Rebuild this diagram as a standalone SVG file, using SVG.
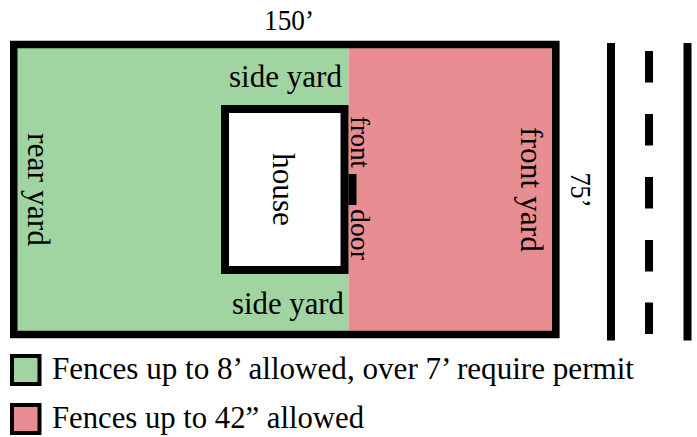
<svg xmlns="http://www.w3.org/2000/svg" width="697" height="437" viewBox="0 0 697 437">
<style>
text{font-family:"Liberation Serif","Times New Roman",serif;fill:#000}
.l{font-size:31px}.m{font-size:29px}.s{font-size:27px}
.k{fill:#000}
.g{fill:#a0d5a2}.p{fill:#e88e93}
</style>
<rect width="697" height="437" fill="#fff"/>
<g id="lot">
<rect class="g" x="10" y="41" width="338.500" height="297"/>
<rect class="p" x="348.500" y="41" width="211" height="297"/>
<rect x="13.750" y="44.500" width="542" height="290" fill="none" stroke="#000" stroke-width="7.500"/>
</g>
<g id="house">
<rect x="225" y="109" width="119.500" height="161" fill="#fff" stroke="#000" stroke-width="8"/>
<text class="l" transform="translate(273,153) rotate(90)" textLength="73" lengthAdjust="spacingAndGlyphs">house</text>
</g>
<g id="door">
<rect class="k" x="348.500" y="174" width="8" height="31"/>
<text class="s" transform="translate(351,116) rotate(90)" textLength="52" lengthAdjust="spacingAndGlyphs">front</text>
<text class="s" transform="translate(351,209) rotate(90)" textLength="51" lengthAdjust="spacingAndGlyphs">door</text>
</g>
<g id="road">
<rect class="k" x="607" y="43" width="8" height="297.500"/>
<rect class="k" x="683.500" y="43" width="8" height="297.500"/>
<rect class="k" x="645" y="51" width="8" height="31.500"/>
<rect class="k" x="645" y="114" width="8" height="31.500"/>
<rect class="k" x="645" y="177" width="8" height="31.500"/>
<rect class="k" x="645" y="240" width="8" height="31.500"/>
<rect class="k" x="645" y="302.500" width="8" height="31.500"/>
</g>
<g id="labels">
<text class="m" x="264" y="30" textLength="50" lengthAdjust="spacingAndGlyphs">150’</text>
<text class="l" x="229" y="87" textLength="113" lengthAdjust="spacingAndGlyphs">side yard</text>
<text class="l" x="232" y="314" textLength="112" lengthAdjust="spacingAndGlyphs">side yard</text>
<text class="l" transform="translate(28,133) rotate(90)" textLength="113" lengthAdjust="spacingAndGlyphs">rear yard</text>
<text class="l" transform="translate(521,127) rotate(90)" textLength="125" lengthAdjust="spacingAndGlyphs">front yard</text>
<text class="m" transform="translate(571,172.500) rotate(90)" textLength="35" lengthAdjust="spacingAndGlyphs">75’</text>
</g>
<g id="legend-green">
<rect class="g" x="12" y="356" width="27.500" height="28" stroke="#000" stroke-width="4"/>
<text class="l" x="52" y="379" textLength="582" lengthAdjust="spacingAndGlyphs">Fences up to 8’ allowed, over 7’ require permit</text>
</g>
<g id="legend-red">
<rect class="p" x="12" y="405" width="27.500" height="28" stroke="#000" stroke-width="4"/>
<text class="l" x="52" y="427.500" textLength="312" lengthAdjust="spacingAndGlyphs">Fences up to 42” allowed</text>
</g>
</svg>
